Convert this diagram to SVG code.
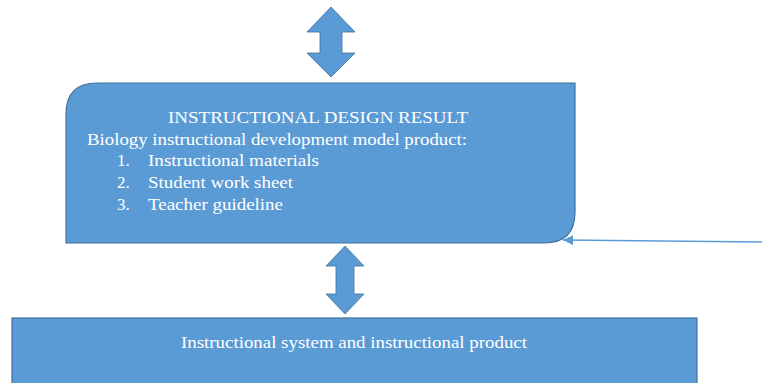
<svg xmlns="http://www.w3.org/2000/svg" width="762" height="383" viewBox="0 0 762 383">
<style>
.box{fill:#5b9bd5;stroke:#41719c;stroke-width:1.2}
.arr{fill:#5b9bd5;stroke:#41719c;stroke-width:0.8}
.t{font-family:"Liberation Serif","Times New Roman",serif;fill:#ffffff;font-size:17px}
.line{stroke:#5b9bd5;stroke-width:1.5;fill:none}
</style>
<defs>
<marker id="ah" markerWidth="12" markerHeight="10" refX="10" refY="5" orient="auto" markerUnits="userSpaceOnUse">
<path d="M0,0 L10,5 L0,10 Z" fill="#5b9bd5"/>
</marker>
</defs>
<g id="connectors">
<path class="arr" d="M331,7 L355,32 L342,32 L342,53 L355,53 L331,77 L307,53 L320,53 L320,32 L307,32 Z"/>
<path class="arr" d="M345,246 L364,266 L354,266 L354,294 L364,294 L345,314 L326,294 L336,294 L336,266 L326,266 Z"/>
<line class="line" x1="762" y1="242" x2="563" y2="240" marker-end="url(#ah)"/>
</g>
<g id="design-result">
<path class="box" d="M97,83 L575,83 L575,212 Q575,243 544,243 L66,243 L66,114 Q66,83 97,83 Z"/>
<text class="t" x="318" y="123" text-anchor="middle" textLength="300" lengthAdjust="spacingAndGlyphs">INSTRUCTIONAL DESIGN RESULT</text>
<text class="t" x="87" y="145" textLength="380" lengthAdjust="spacingAndGlyphs">Biology instructional development model product:</text>
<text class="t" x="117" y="166">1.</text>
<text class="t" x="148" y="166" textLength="171" lengthAdjust="spacingAndGlyphs">Instructional materials</text>
<text class="t" x="117" y="188">2.</text>
<text class="t" x="148" y="188" textLength="145" lengthAdjust="spacingAndGlyphs">Student work sheet</text>
<text class="t" x="117" y="210">3.</text>
<text class="t" x="148" y="210" textLength="135" lengthAdjust="spacingAndGlyphs">Teacher guideline</text>
</g>
<g id="system-product">
<rect class="box" x="12" y="318" width="685" height="70"/>
<text class="t" x="354" y="348" text-anchor="middle" textLength="346" lengthAdjust="spacingAndGlyphs">Instructional system and instructional product</text>
</g>
</svg>
